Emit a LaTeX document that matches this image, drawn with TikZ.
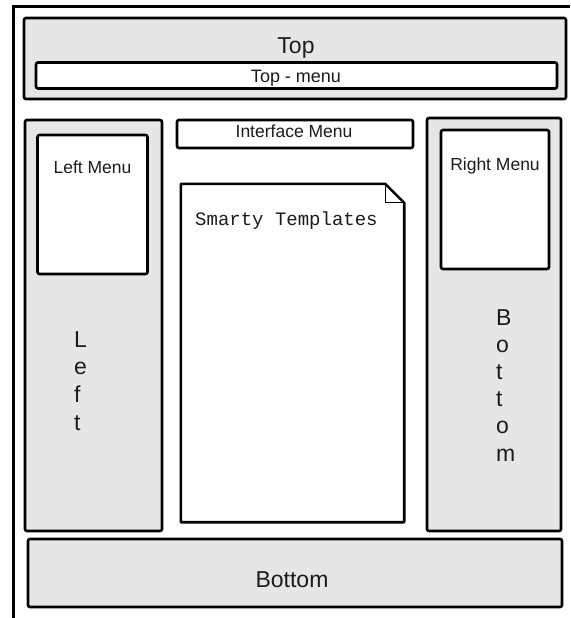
\documentclass[tikz,border=0pt]{standalone}
\usepackage{fontspec}
\setmainfont{Liberation Sans}
\newfontfamily\tplfont{Liberation Mono}
\usepackage{xcolor}
\definecolor{panel}{HTML}{E6E6E6}
\definecolor{ink}{HTML}{1C1C1C}
\usetikzlibrary{calc}
\tikzset{
  frame/.style={draw=black,line width=2.6pt,rounded corners=2pt,inner sep=0pt},
  panelbox/.style={frame,fill=panel},
  menubox/.style={frame,fill=white},
  lab/.style={text=ink,inner sep=0pt,font=\fontsize{17.5}{20}\selectfont},
  biglab/.style={text=ink,inner sep=0pt,font=\fontsize{23}{26}\selectfont},
  vlab/.style={biglab,anchor=base west},
}

\begin{document}
\begin{tikzpicture}[x=1pt,y=-1pt]
\useasboundingbox (0,0) rectangle (570,618);
% outer page edge
\draw[line width=2.6pt] (13.5,618) -- (13.5,6.5) -- (570,6.5);

% top band
\node[panelbox,minimum width=542,minimum height=81] (top) at (295,58.5) {};
\node[biglab,anchor=base] (toplab) at (296,53) {Top};
\node[menubox,minimum width=521,minimum height=26] (topmenu) at (296.5,75.5) {};
\node[lab,anchor=base,font=\fontsize{18}{20}\selectfont] (topmenulab) at (296,82) {Top - menu};

% left column
\node[panelbox,minimum width=137,minimum height=411] (left) at (93.5,325.5) {};
\node[menubox,minimum width=110,minimum height=139] (leftmenu) at (92.5,204.5) {};
\node[lab,anchor=base] (leftmenulab) at (92.5,173) {Left Menu};
\foreach \c [count=\i] in {L,e,f,t}
  \node[vlab] (l\i) at (74,347+27.7*\i-27.7) {\c};

% middle column
\node[menubox,minimum width=236,minimum height=28] (iface) at (295,134) {};
\node[lab,anchor=base] (ifacelab) at (294,137.5) {Interface Menu};
\node[minimum width=223,minimum height=338,inner sep=0pt] (tpl) at (292.5,353) {};
\draw[line width=2.6pt,line join=round,fill=white]
  (tpl.south west) -- (tpl.north west) -- ($(tpl.north east)+(-19,0)$)
  -- ($(tpl.north east)+(0,19)$) -- (tpl.south east) -- cycle;
\draw[line width=1.2pt] ($(tpl.north east)+(-19,0)$) -- ($(tpl.north east)+(-19,19)$)
  -- ($(tpl.north east)+(0,19)$);
\node[text=ink,inner sep=0pt,anchor=base west,font=\tplfont\fontsize{19}{22}\selectfont]
  (tpllab) at (195,225) {Smarty Templates};

% right column
\node[panelbox,minimum width=134,minimum height=413] (right) at (494,324.5) {};
\node[menubox,minimum width=108,minimum height=139] (rightmenu) at (495,199.5) {};
\node[lab,anchor=base] (rightmenulab) at (495,170) {Right Menu};
\foreach \c [count=\i] in {B,o,t,t,o,m}
  \node[vlab] (r\i) at (496,325+27.2*\i-27.2) {\c};

% bottom band
\node[panelbox,minimum width=534,minimum height=68] (bottom) at (295,573) {};
\node[biglab,anchor=base] (bottomlab) at (292,587) {Bottom};
\end{tikzpicture}
\end{document}
